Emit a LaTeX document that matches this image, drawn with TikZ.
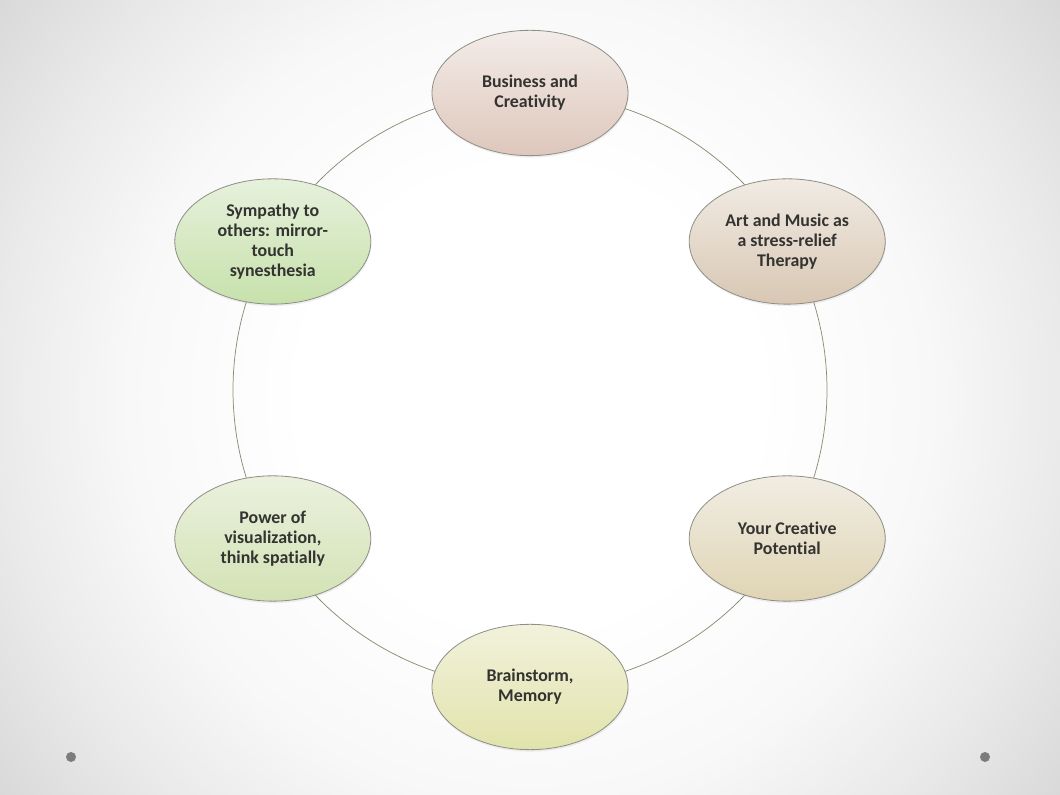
\documentclass[tikz,border=0pt]{standalone}
\usepackage{fontspec}
\setmainfont{Carlito}[Ligatures=NoCommon]
\usetikzlibrary{shapes.geometric,shadows}
\pgfdeclarelayer{bg}
\pgfdeclarelayer{edges}
\pgfsetlayers{bg,edges,main}
\definecolor{txt}{HTML}{333331}
\definecolor{rim}{HTML}{8E8E86}
\definecolor{linkc}{HTML}{8A8C74}
\definecolor{dotc}{HTML}{7C7C7C}
\definecolor{bgA}{HTML}{F8F8F8}
\definecolor{bgB}{HTML}{EAEAEA}
\definecolor{bgC}{HTML}{D8D8D8}
\definecolor{bizA}{HTML}{F3ECE8}
\definecolor{bizB}{HTML}{DEC7BC}
\definecolor{artA}{HTML}{F1EBE4}
\definecolor{artB}{HTML}{D8C7B3}
\definecolor{potA}{HTML}{F1EDE3}
\definecolor{potB}{HTML}{DFD4B4}
\definecolor{brainA}{HTML}{F2F2DC}
\definecolor{brainB}{HTML}{E1E3AB}
\definecolor{visA}{HTML}{EBF1DE}
\definecolor{visB}{HTML}{D3E2B4}
\definecolor{sympA}{HTML}{E6F1DC}
\definecolor{sympB}{HTML}{C7E1AB}
\pgfdeclareradialshading{slidebg}{\pgfpoint{0bp}{0bp}}{color(0bp)=(white); color(170bp)=(white); color(300bp)=(bgA); color(398bp)=(bgB); color(500bp)=(bgC)}
\tikzset{
  bubble/.style={ellipse, draw=rim, line width=0.6pt, minimum width=147pt, minimum height=94pt,
    inner sep=0pt, align=center, text=txt, font=\fontsize{13.4}{15}\selectfont\bfseries,
    drop shadow={opacity=0.12, shadow xshift=0.5pt, shadow yshift=-1.5pt}},
  link/.style={draw=linkc, line width=0.55pt}
}

\begin{document}
\begin{tikzpicture}[x=0.75pt,y=0.75pt]
\def\r{297}
\useasboundingbox (0,0) rectangle (1060,795);
\begin{pgfonlayer}{bg}
\begin{scope}
\clip (0,0) rectangle (1060,795);
\node[inner sep=0pt] (glow) at (530,397.5) {\pgfuseshading{slidebg}};
\end{scope}
\fill[dotc] (71,38) circle (5);
\fill[dotc] (985,38) circle (5);
\end{pgfonlayer}
\begin{scope}[shift={(530,405)}]
\node[bubble, top color=bizA, bottom color=bizB] (biz) at (90:\r) {Business and\\Creativity};
\node[bubble, top color=artA, bottom color=artB] (art) at (30:\r) {Art and Music as\\a stress-relief\\Therapy};
\node[bubble, top color=potA, bottom color=potB] (pot) at (-30:\r) {Your Creative\\Potential};
\node[bubble, top color=brainA, bottom color=brainB] (brain) at (-90:\r) {Brainstorm,\\Memory};
\node[bubble, top color=visA, bottom color=visB] (vis) at (-150:\r) {Power of\\visualization,\\think spatially};
\node[bubble, top color=sympA, bottom color=sympB] (symp) at (150:\r) {Sympathy to\\others: mirror-\\touch\\synesthesia};
\end{scope}
\begin{pgfonlayer}{edges}
\foreach \a/\b [count=\i] in {biz/art,art/pot,pot/brain,brain/vis,vis/symp,symp/biz}
  \draw[link] (\a.center) arc[start angle={150-60*\i}, end angle={90-60*\i}, radius=\r];
\end{pgfonlayer}
\end{tikzpicture}
\end{document}
